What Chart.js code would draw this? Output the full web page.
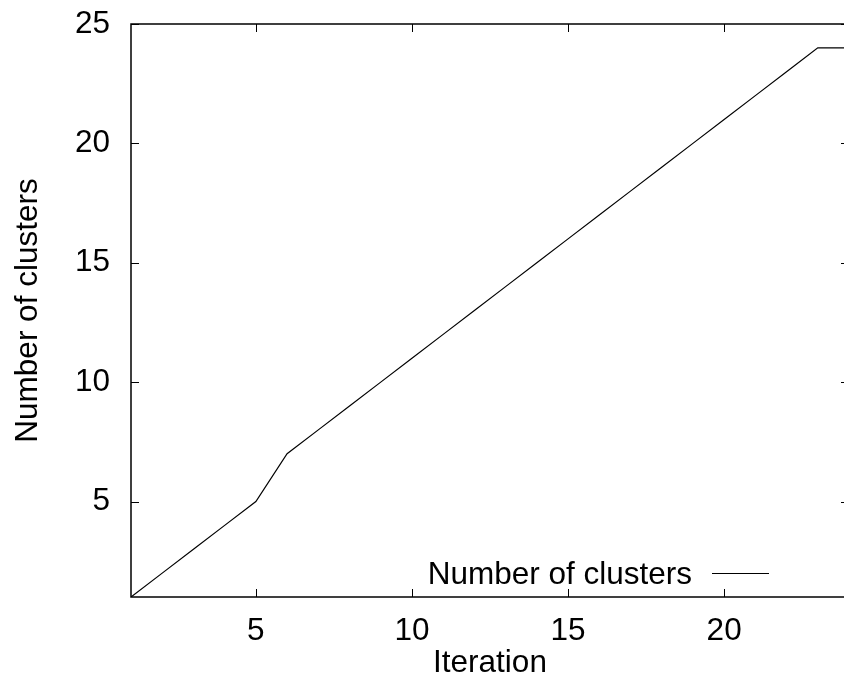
<!DOCTYPE html>
<html>
<head>
<meta charset="utf-8">
<script src="https://cdn.jsdelivr.net/npm/chart.js@4/dist/chart.umd.min.js"></script>
<style>
html,body{margin:0;padding:0;background:#fff;overflow:hidden;width:844px;height:679px;}
#wrap{position:absolute;left:0;top:0;width:850px;height:679px;}
</style>
</head>
<body>
<div id="wrap"><canvas id="c" width="850" height="679" style="width:850px;height:679px"></canvas></div>
<script>
const iterations = [1,2,3,4,5,6,7,8,9,10,11,12,13,14,15,16,17,18,19,20,21,22,23,24];
const clusters   = [1,2,3,4,5,7,8,9,10,11,12,13,14,15,16,17,18,19,20,21,22,23,24,24];
const xTicks = [5,10,15,20];
const yTicks = [5,10,15,20,25];
const seriesLabel = "Number of clusters";
const xTitle = "Iteration";
const yTitle = "Number of clusters";

const FONT = "'Liberation Sans', Arial, Helvetica, sans-serif";
const FS = 31.5;

const framePlugin = {
  id: 'frame',
  afterDraw(chart) {
    const {ctx, chartArea: a, scales} = chart;
    const x = scales.x, y = scales.y;
    ctx.save();
    ctx.strokeStyle = '#000';
    ctx.lineWidth = 1.5;
    ctx.strokeRect(a.left, a.top, a.right - a.left, a.bottom - a.top);
    const L = 8;
    ctx.lineWidth = 1;
    ctx.beginPath();
    xTicks.forEach(v => {
      const px = Math.round(x.getPixelForValue(v)) + 0.5;
      ctx.moveTo(px, a.bottom); ctx.lineTo(px, a.bottom - L);
      ctx.moveTo(px, a.top); ctx.lineTo(px, a.top + L);
    });
    yTicks.forEach(v => {
      const py = Math.round(y.getPixelForValue(v)) + 0.5;
      ctx.moveTo(a.left, py); ctx.lineTo(a.left + L, py);
      ctx.moveTo(a.right, py); ctx.lineTo(a.right - L, py);
    });
    ctx.stroke();
    // legend
    const ds = chart.data.datasets[0];
    ctx.font = FS + 'px ' + FONT;
    ctx.fillStyle = '#000';
    ctx.textAlign = 'right';
    ctx.textBaseline = 'alphabetic';
    ctx.fillText(ds.label, 692, 584);
    ctx.beginPath();
    ctx.lineWidth = 1;
    ctx.moveTo(712, 573.5); ctx.lineTo(769, 573.5);
    ctx.stroke();
    ctx.restore();
  }
};

new Chart(document.getElementById('c'), {
  type: 'line',
  data: {
    datasets: [{
      label: seriesLabel,
      data: iterations.map((v, i) => ({x: v, y: clusters[i]})),
      borderColor: '#000',
      borderWidth: 1.2,
      pointRadius: 0,
      tension: 0,
      fill: false
    }]
  },
  options: {
    responsive: false,
    animation: false,
    devicePixelRatio: 1,
    layout: {padding: {top: 24, right: 1, left: 0, bottom: 0}},
    plugins: {legend: {display: false}, tooltip: {enabled: false}},
    scales: {
      x: {
        type: 'linear', min: 1, max: 24,
        afterBuildTicks: s => { s.ticks = xTicks.map(v => ({value: v})); },
        afterFit: s => { s.height = 82; s.paddingLeft = 0; s.paddingRight = 0; },
        grid: {display: false, drawTicks: false},
        border: {display: false},
        ticks: {color: '#000', font: {family: FONT, size: FS}, padding: 15, maxRotation: 0, autoSkip: false},
        title: {display: true, text: xTitle, color: '#000', font: {family: FONT, size: FS}, padding: {top: 0, bottom: -3}}
      },
      y: {
        type: 'linear', min: 1, max: 25,
        afterBuildTicks: s => { s.ticks = yTicks.map(v => ({value: v})); },
        afterFit: s => { s.width = 131; s.paddingTop = 0; s.paddingBottom = 0; },
        grid: {display: false, drawTicks: false},
        border: {display: false},
        ticks: {color: '#000', font: {family: FONT, size: FS}, padding: 21, autoSkip: false},
        title: {display: true, text: yTitle, color: '#000', font: {family: FONT, size: FS}, padding: {top: 9, bottom: 0}}
      }
    }
  },
  plugins: [framePlugin]
});
</script>
</body>
</html>
